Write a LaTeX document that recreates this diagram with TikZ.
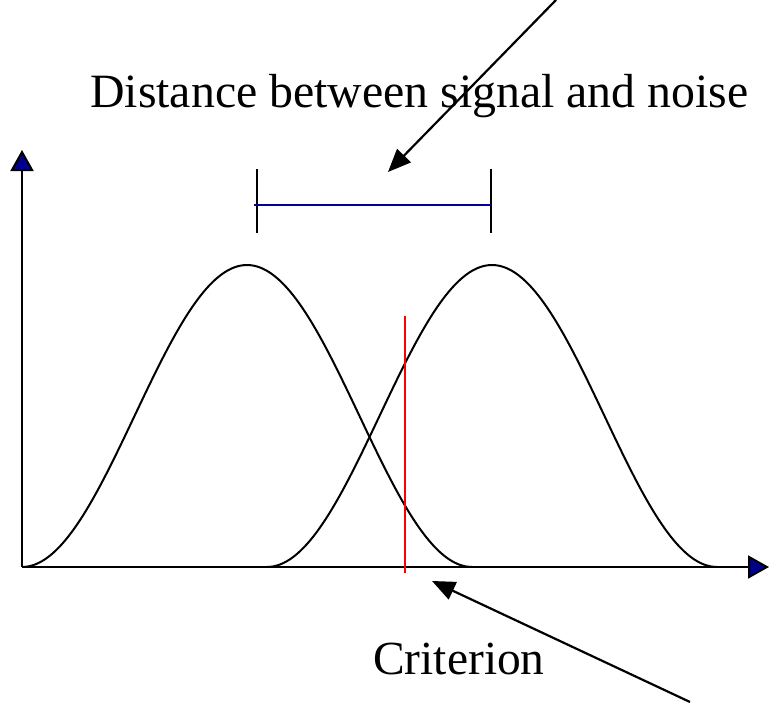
\documentclass[tikz,border=0pt]{standalone}
\usepackage{fontspec}
\setmainfont{Liberation Serif}
\usetikzlibrary{
    arrows.meta,
    calc
}
\definecolor{axisblue}{RGB}{0, 0, 140}
\definecolor{gapblue}{RGB}{0, 0, 150}
\definecolor{critred}{RGB}{255, 0, 0}

\begin{document}
\begin{tikzpicture}[
    x=1pt, y=-1pt,
    caption/.style={inner sep=0pt, anchor=base west, font=\fontsize{#1}{50}\selectfont},
    axisline/.style={line width=2pt, -{Triangle[length=21pt, width=23pt, fill=axisblue]}},
    curve/.style={line width=2pt, black},
    pointer/.style={line width=2.2pt, -{Triangle[length=23pt, width=19pt]}},
    tick/.style={line width=2pt, black}
]
\useasboundingbox (0,0) rectangle (769,704);

% Labels
\node[caption=47.8] (dist) at (90, 107) {Distance between signal and noise};
\node[caption=47.5] (crit) at (373, 674) {Criterion};

% ============================================
% AXES
% ============================================
\coordinate (origin) at (22, 567);
\coordinate (ytop) at (22, 150);
\coordinate (xend) at (769, 567);
\draw[axisline] (origin) -- (ytop);
\draw[axisline] (origin) -- (xend);

% ============================================
% NOISE AND SIGNAL CURVES
% ============================================
\draw[curve] plot[domain=0:1, samples=80, smooth] ({22+450*\x}, {567-151*(1-cos(360*\x))});
\draw[curve] plot[domain=0:1, samples=80, smooth] ({267+450*\x}, {567-151*(1-cos(360*\x))});

% Criterion line
\coordinate (crittop) at (405, 316);
\coordinate (critbot) at (405, 573);
\draw[critred, line width=1.6pt] (crittop) -- (critbot);

% ============================================
% DISTANCE MARKER
% ============================================
\coordinate (ltop) at (257, 169);
\coordinate (lbot) at (257, 233);
\coordinate (rtop) at (491, 169);
\coordinate (rbot) at (491, 233);
\draw[tick] (ltop) -- (lbot);
\draw[tick] (rtop) -- (rbot);
\draw[gapblue, line width=2pt] (254, 205) coordinate (gapl) -- (491, 205) coordinate (gapr);

% Pointers
\coordinate (distfrom) at (556, 0);
\coordinate (distto) at (388, 172);
\draw[pointer] (distfrom) -- (distto);
\coordinate (critfrom) at (690, 702);
\coordinate (critto) at (432, 581);
\draw[pointer] (critfrom) -- (critto);

\end{tikzpicture}
\end{document}
